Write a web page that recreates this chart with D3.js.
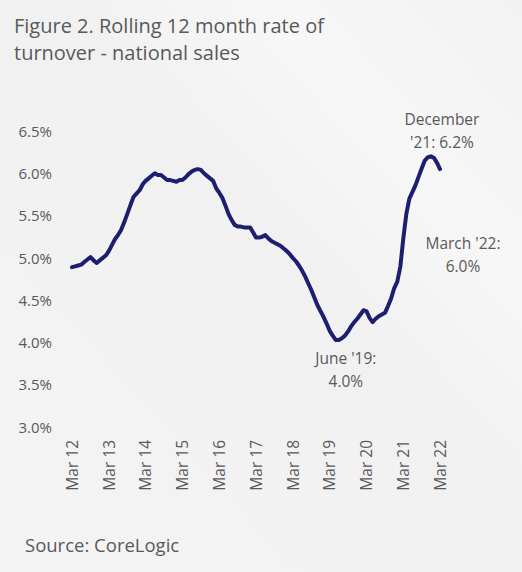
<!DOCTYPE html>
<html>
<head>
<meta charset="utf-8">
<script src="https://cdn.jsdelivr.net/npm/d3@7"></script>
<style>
  body { margin: 0; background: #f4f3f4; }
  svg text { font-family: "Open Sans", "Noto Sans", sans-serif; fill: #595959; }
</style>
</head>
<body>
<div id="chart"></div>
<script>
// Rolling 12 month rate of turnover, monthly Mar 2012 - Mar 2022 (%)
const startMonth = '2012-03';
const turnover = [
  4.89, 4.90, 4.91, 4.92, 4.95, 4.98, 5.01, 4.97, 4.94, 4.97, 5.00, 5.03,
  5.08, 5.15, 5.22, 5.27, 5.33, 5.42, 5.52, 5.62, 5.72, 5.76, 5.80, 5.87,
  5.91, 5.94, 5.97, 6.00, 5.98, 5.98, 5.95, 5.92, 5.92, 5.91, 5.90, 5.92,
  5.92, 5.95, 5.99, 6.02, 6.04, 6.05, 6.04, 6.00, 5.97, 5.94, 5.91, 5.82,
  5.77, 5.71, 5.62, 5.52, 5.45, 5.39, 5.37, 5.37, 5.36, 5.36, 5.36, 5.30,
  5.24, 5.24, 5.25, 5.27, 5.23, 5.20, 5.18, 5.16, 5.14, 5.11, 5.08, 5.04,
  5.00, 4.96, 4.91, 4.85, 4.78, 4.70, 4.62, 4.53, 4.44, 4.37, 4.30, 4.22,
  4.14, 4.08, 4.03, 4.03, 4.05, 4.08, 4.13, 4.19, 4.24, 4.28, 4.33, 4.38,
  4.37, 4.29, 4.24, 4.28, 4.31, 4.33, 4.35, 4.43, 4.52, 4.64, 4.72, 4.90,
  5.22, 5.52, 5.70, 5.78, 5.86, 5.96, 6.06, 6.15, 6.19, 6.20, 6.18, 6.12,
  6.05
];
const yTicks = [3.0, 3.5, 4.0, 4.5, 5.0, 5.5, 6.0, 6.5];
const xTickLabels = ['Mar 12', 'Mar 13', 'Mar 14', 'Mar 15', 'Mar 16', 'Mar 17',
  'Mar 18', 'Mar 19', 'Mar 20', 'Mar 21', 'Mar 22'];
const titleLines = ['Figure 2. Rolling 12 month rate of', 'turnover - national sales'];
const source = 'Source: CoreLogic';
const notes = [
  { month: '2021-12', lines: ['December', "'21: 6.2%"], dx: 11, dy: -31 },
  { month: '2022-03', lines: ["March '22:", '6.0%'], dx: 23, dy: 80 },
  { month: '2019-06', lines: ["June '19:", '4.0%'], dx: 7, dy: 24 }
];

const width = 522, height = 572;
const parse = d3.timeParse('%Y-%m');
const start = parse(startMonth);
const data = turnover.map((v, i) => ({ date: d3.timeMonth.offset(start, i), value: v }));

const svg = d3.select('#chart').append('svg')
    .attr('width', width)
    .attr('height', height);

// soft background sheen
const grad = svg.append('defs').append('linearGradient')
    .attr('id', 'bg').attr('x1', 0).attr('y1', 1).attr('x2', 1).attr('y2', 0);
grad.append('stop').attr('offset', '0%').attr('stop-color', '#f5f4f5');
grad.append('stop').attr('offset', '55%').attr('stop-color', '#f2f1f2');
grad.append('stop').attr('offset', '75%').attr('stop-color', '#f8f7f8');
grad.append('stop').attr('offset', '100%').attr('stop-color', '#f3f2f3');
svg.append('rect').attr('width', width).attr('height', height).attr('fill', 'url(#bg)');

svg.selectAll('.title')
    .data(titleLines)
    .enter()
    .append('text')
        .attr('class', 'title')
        .attr('x', 14)
        .attr('y', (d, i) => 33 + i * 27)
        .style('font-size', '20px')
        .text(d => d);

const x = d3.scaleTime()
    .domain([start, d3.timeMonth.offset(start, 120)])
    .range([72, 440]);

const y = d3.scaleLinear()
    .domain([3.0, 6.5])
    .range([427, 131]);

const yAxis = svg.append('g')
    .attr('transform', 'translate(52,0)')
    .call(d3.axisLeft(y).tickValues(yTicks).tickFormat(d3.format('.1f')).tickSize(0).tickPadding(0));
yAxis.select('.domain').remove();
yAxis.selectAll('text')
    .text(d => d3.format('.1f')(d) + '%')
    .attr('dy', '0.35em')
    .style('font-size', '15px')
    .style('fill', '#595959');

const xTickDates = xTickLabels.map((d, i) => d3.timeYear.offset(start, i));
const xAxis = svg.append('g')
    .attr('transform', 'translate(0,440)')
    .call(d3.axisBottom(x).tickValues(xTickDates).tickFormat((d, i) => xTickLabels[i]).tickSize(0).tickPadding(0));
xAxis.select('.domain').remove();
xAxis.selectAll('text')
    .attr('transform', 'rotate(-90)')
    .attr('x', 0)
    .attr('y', 0)
    .attr('dy', '0.35em')
    .attr('text-anchor', 'end')
    .style('font-size', '15.5px')
    .style('fill', '#595959');

const line = d3.line()
    .x(d => x(d.date))
    .y(d => y(d.value));

svg.append('path')
    .datum(data)
    .attr('fill', 'none')
    .attr('stroke', '#1c1f6e')
    .attr('stroke-width', 4)
    .attr('stroke-linejoin', 'round')
    .attr('stroke-linecap', 'round')
    .attr('d', line);

// annotations
notes.forEach(n => {
    const p = data.find(d => d3.timeFormat('%Y-%m')(d.date) === n.month);
    const g = svg.append('g')
        .attr('transform', `translate(${x(p.date) + n.dx},${y(p.value) + n.dy})`);
    g.selectAll('text')
        .data(n.lines)
        .enter()
        .append('text')
            .attr('x', 0)
            .attr('y', (d, i) => i * 23)
            .attr('text-anchor', 'middle')
            .style('font-size', '15.5px')
            .text(d => d);
});

svg.append('text')
    .attr('x', 25)
    .attr('y', 552)
    .style('font-size', '18.5px')
    .text(source);
</script>
</body>
</html>
